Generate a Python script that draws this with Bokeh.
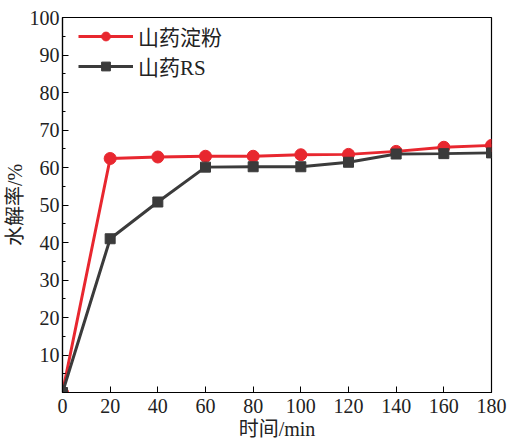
from bokeh.plotting import figure
from bokeh.models import FixedTicker, Range1d, Legend, LegendItem
from bokeh.embed import file_html
from bokeh.resources import INLINE

time_min = [0, 20, 40, 60, 80, 100, 120, 140, 160, 180]
starch = [0, 62.4, 62.8, 63.0, 63.0, 63.4, 63.5, 64.3, 65.4, 65.9]
rs = [0, 41.0, 50.8, 60.1, 60.2, 60.2, 61.4, 63.6, 63.7, 63.9]
series_names = ["山药淀粉", "山药RS"]
x_ticks = [0, 20, 40, 60, 80, 100, 120, 140, 160, 180]
y_ticks = [10, 20, 30, 40, 50, 60, 70, 80, 90, 100]
y_minor = [5, 15, 25, 35, 45, 55, 65, 75, 85, 95]

FONT = "'Liberation Serif', 'Noto Sans CJK SC'"
RED = "#e8272f"
DARK = "#3b3b3b"

p = figure(width=507, height=446, output_backend="svg", toolbar_location=None,
           x_range=Range1d(0, 180), y_range=Range1d(0, 100),
           min_border_left=62, min_border_right=16, min_border_top=17, min_border_bottom=54)
p.grid.visible = False
p.outline_line_color = "black"
p.outline_line_width = 1.2
p.background_fill_color = "white"
p.border_fill_color = "white"

for ax in (p.xaxis[0], p.yaxis[0]):
    ax.axis_line_color = "black"
    ax.axis_line_width = 1.2
    ax.major_tick_in = 6
    ax.major_tick_out = 0
    ax.minor_tick_in = 3
    ax.minor_tick_out = 0
    ax.major_label_text_font = FONT
    ax.major_label_text_font_size = "20px"
    ax.major_label_text_color = "#222222"
    ax.axis_label_text_font = FONT
    ax.axis_label_text_font_size = "20px"
    ax.axis_label_text_font_style = "normal"
    ax.axis_label_text_color = "#222222"

p.xaxis.ticker = FixedTicker(ticks=x_ticks)
p.yaxis.ticker = FixedTicker(ticks=y_ticks, minor_ticks=y_minor)
p.xaxis.major_label_standoff = 6
p.yaxis.major_label_standoff = 3
p.xaxis.axis_label = "时间/min"
p.yaxis.axis_label = "水解率/%"
p.xaxis.axis_label_standoff = 2
p.yaxis.axis_label_standoff = 1

l1 = p.line(time_min, starch, line_color=RED, line_width=3)
m1 = p.scatter(time_min, starch, marker="circle", size=12, fill_color=RED, line_color=RED)
l2 = p.line(time_min, rs, line_color=DARK, line_width=3)
m2 = p.scatter(time_min, rs, marker="square", size=10, fill_color=DARK, line_color=DARK)

legend = Legend(items=[LegendItem(label=series_names[0], renderers=[l1, m1]),
                       LegendItem(label=series_names[1], renderers=[l2, m2])],
                location=(16, 311))
legend.border_line_color = None
legend.background_fill_alpha = 0
legend.label_text_font = FONT
legend.label_text_font_size = "21px"
legend.label_text_color = "#222222"
legend.glyph_width = 55
legend.glyph_height = 22
legend.label_height = 22
legend.spacing = -3
legend.margin = 0
legend.padding = 4
legend.label_standoff = 5
p.add_layout(legend)

open("out.html", "w").write(file_html(p, INLINE))
